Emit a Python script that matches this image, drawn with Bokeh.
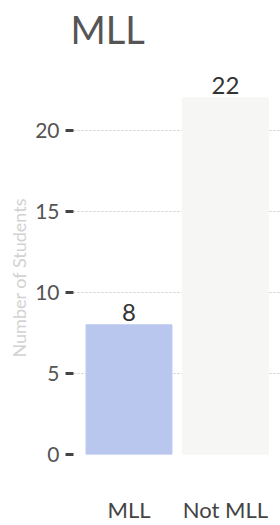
from bokeh.plotting import figure
from bokeh.models import Range1d, FixedTicker, ColumnDataSource, LabelSet, Title
from bokeh.embed import file_html
from bokeh.resources import INLINE
from bokeh.core.properties import value

categories = ["MLL", "Not MLL"]
counts = [8, 22]
bar_colors = ["#b9c7ef", "#f6f6f4"]
y_ticks = [0, 5, 10, 15, 20]

xpos = list(range(len(categories)))
src = ColumnDataSource(dict(x=xpos, top=counts, color=bar_colors,
                            label=[str(c) for c in counts]))

p = figure(width=280, height=532, output_backend="svg", toolbar_location=None,
           x_range=Range1d(-0.575, 1.57), y_range=Range1d(0, 24),
           min_border_left=73, min_border_right=0, min_border_top=72,
           min_border_bottom=70, margin=(-7, 0, 0, 0))
p.outline_line_color = None
p.background_fill_color = "white"
p.border_fill_color = "white"

p.title.text = "MLL"
p.title.text_font = "Lato"
p.title.text_font_size = "38px"
p.title.text_font_style = "normal"
p.title.text_color = "#555555"
p.title.align = "left"
p.title.vertical_align = "top"
p.title.offset = -3
p.title.standoff = 23

p.vbar(x="x", top="top", width=0.89, color="color", source=src)

labels = LabelSet(x="x", y="top", text="label", source=src, text_align="center",
                  text_baseline="bottom", y_offset=4, text_font=value("Lato"),
                  text_font_size="24px", text_color="#333333")
p.add_layout(labels)

# x axis
p.xaxis.ticker = FixedTicker(ticks=xpos)
p.xaxis.major_label_overrides = {i: c for i, c in enumerate(categories)}
p.xaxis.major_label_text_font = "Lato"
p.xaxis.major_label_text_font_size = "22px"
p.xaxis.major_label_text_color = "#444444"
p.xaxis.major_label_standoff = 35
p.xaxis.axis_line_color = None
p.xaxis.major_tick_line_color = None
p.xaxis.minor_tick_line_color = None
p.xgrid.grid_line_color = None

# y axis
p.yaxis.ticker = FixedTicker(ticks=y_ticks)
p.yaxis.major_label_text_font = "Lato"
p.yaxis.major_label_text_font_size = "21px"
p.yaxis.major_label_text_color = "#555555"
p.yaxis.major_label_standoff = 6
p.yaxis.axis_line_color = None
p.yaxis.major_tick_out = 8
p.yaxis.major_tick_in = 0
p.yaxis.major_tick_line_width = 3
p.yaxis.major_tick_line_color = "#444444"
p.yaxis.minor_tick_line_color = None
p.ygrid.grid_line_color = "#cccccc"
p.ygrid.grid_line_dash = "2 2"
p.ygrid.grid_line_width = 1

ytitle = Title(text="Number of Students", align="left", offset=97,
               text_font="Lato", text_font_size="18px", text_font_style="normal",
               text_color="#d2d2d2", standoff=6)
p.add_layout(ytitle, "left")

open("out.html", "w").write(file_html(p, INLINE))
